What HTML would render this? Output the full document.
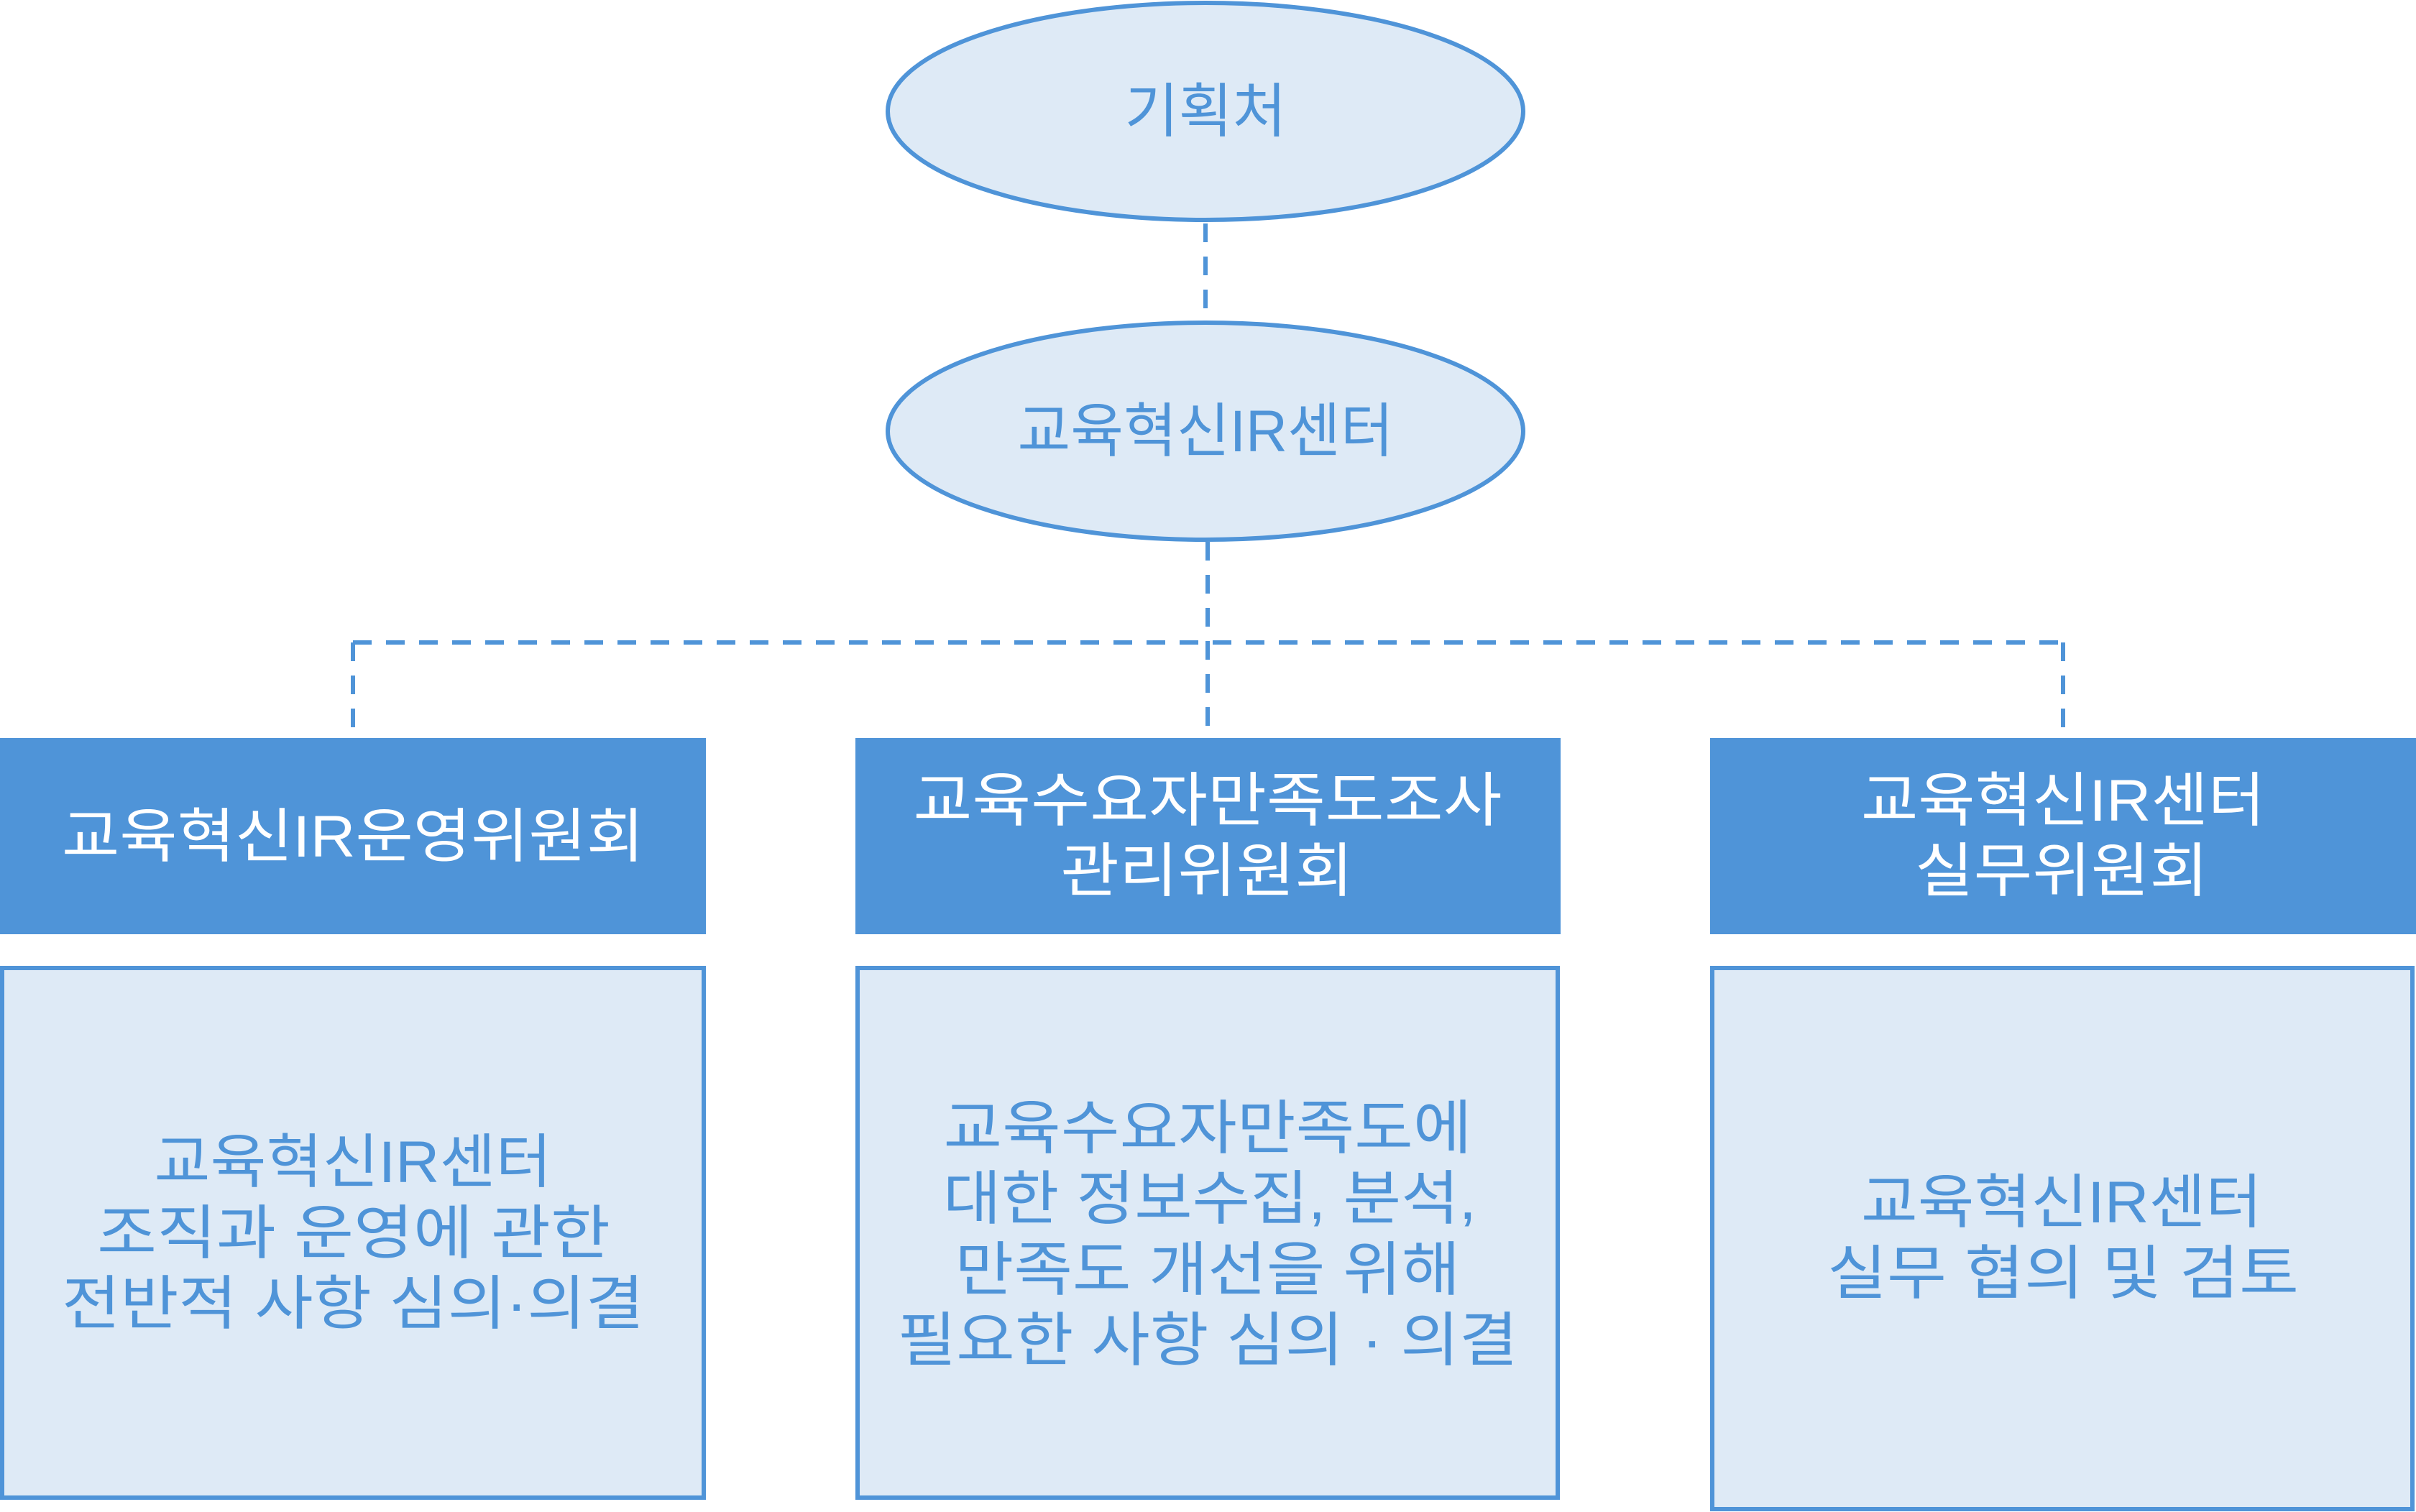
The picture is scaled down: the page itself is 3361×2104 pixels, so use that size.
<!DOCTYPE html>
<html><head><meta charset="utf-8"><style>
html,body{margin:0;padding:0;background:#fff;}
svg{display:block;}
text{font-family:"Liberation Sans","Noto Sans CJK KR",sans-serif;font-size:82px;text-anchor:middle;}
.w{fill:#fff;}
.b{fill:#4f94d8;}
</style></head><body>
<svg width="3361" height="2104" viewBox="0 0 3361 2104" xmlns="http://www.w3.org/2000/svg">
<g stroke="#4f94d8" stroke-width="6" fill="none" stroke-dasharray="26,20">
<line x1="1677" y1="311" x2="1677" y2="446"/>
<line x1="1680" y1="754" x2="1680" y2="1018"/>
<line x1="491" y1="894" x2="2870" y2="894"/>
<line x1="491" y1="894" x2="491" y2="1018"/>
<line x1="2870" y1="894" x2="2870" y2="1018"/>
</g>
<ellipse cx="1677" cy="155" rx="442" ry="151" fill="#deeaf6" stroke="#4f94d8" stroke-width="6"/>
<ellipse cx="1677" cy="600" rx="442" ry="151" fill="#deeaf6" stroke="#4f94d8" stroke-width="6"/>
<text class="b" x="1677" y="183" textLength="225" lengthAdjust="spacingAndGlyphs">기획처</text>
<text class="b" x="1677" y="628" textLength="523" lengthAdjust="spacingAndGlyphs">교육혁신IR센터</text>

<rect x="0" y="1027" width="982" height="273" fill="#4f94d8"/>
<rect x="1190" y="1027" width="981" height="273" fill="#4f94d8"/>
<rect x="2379" y="1027" width="982" height="273" fill="#4f94d8"/>

<text class="w" x="491" y="1192" textLength="810" lengthAdjust="spacingAndGlyphs">교육혁신IR운영위원회</text>
<text class="w" x="1680" y="1142" textLength="819" lengthAdjust="spacingAndGlyphs">교육수요자만족도조사</text>
<text class="w" x="1679" y="1240" textLength="407" lengthAdjust="spacingAndGlyphs">관리위원회</text>
<text class="w" x="2870" y="1142" textLength="562" lengthAdjust="spacingAndGlyphs">교육혁신IR센터</text>
<text class="w" x="2868" y="1240" textLength="408" lengthAdjust="spacingAndGlyphs">실무위원회</text>

<rect x="3" y="1347" width="976" height="737" fill="#deeaf6" stroke="#4f94d8" stroke-width="6"/>
<rect x="1193" y="1347" width="974" height="737" fill="#deeaf6" stroke="#4f94d8" stroke-width="6"/>
<rect x="2382" y="1347" width="974" height="753" fill="#deeaf6" stroke="#4f94d8" stroke-width="6"/>

<text class="b" x="491" y="1645" textLength="553" lengthAdjust="spacingAndGlyphs">교육혁신IR센터</text>
<text class="b" x="492" y="1744" textLength="714" lengthAdjust="spacingAndGlyphs">조직과 운영에 관한</text>
<text class="b" x="491" y="1842" textLength="810" lengthAdjust="spacingAndGlyphs">전반적 사항 심의·의결</text>

<text class="b" x="1680" y="1598" textLength="735" lengthAdjust="spacingAndGlyphs">교육수요자만족도에</text>
<text class="b" x="1683" y="1696" textLength="742" lengthAdjust="spacingAndGlyphs">대한 정보수집, 분석,</text>
<text class="b" x="1680" y="1795" textLength="703" lengthAdjust="spacingAndGlyphs">만족도 개선을 위해</text>
<text class="b" x="1680" y="1893" textLength="863" lengthAdjust="spacingAndGlyphs">필요한 사항 심의 · 의결</text>

<text class="b" x="2868" y="1701" textLength="558" lengthAdjust="spacingAndGlyphs">교육혁신IR센터</text>
<text class="b" x="2870" y="1800" textLength="656" lengthAdjust="spacingAndGlyphs">실무 협의 및 검토</text>
</svg>
</body></html>
